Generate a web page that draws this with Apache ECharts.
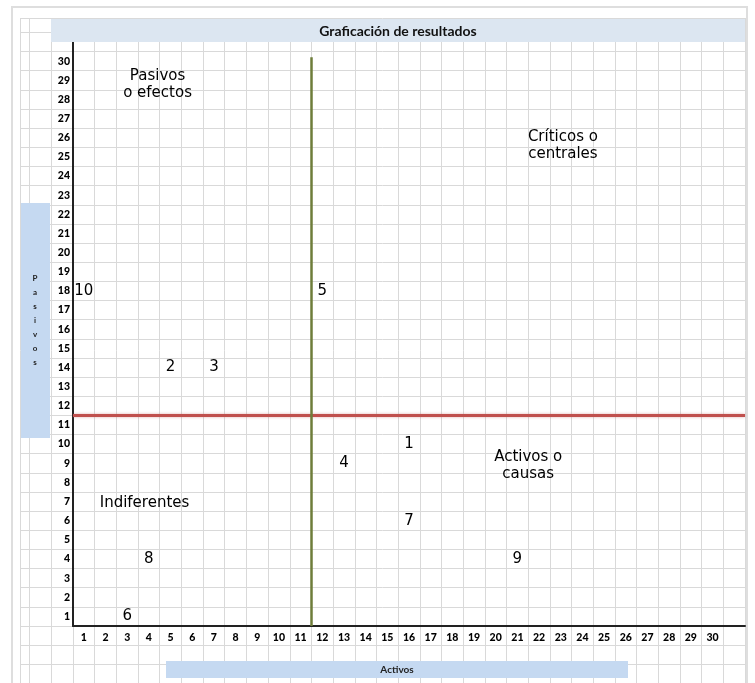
<!DOCTYPE html>
<html>
<head>
<meta charset="utf-8">
<script src="https://cdn.jsdelivr.net/npm/echarts@6/dist/echarts.min.js"></script>
<style>
  html, body { margin: 0; padding: 0; background: #fff; }
  #chart { width: 755px; height: 683px; }
</style>
</head>
<body>
<div id="chart"></div>
<script>
// puntos de la matriz (activos = x, pasivos = y)
const pointIds = ['1', '2', '3', '4', '5', '6', '7', '8', '9', '10']
const activos = [16, 5, 7, 13, 12, 3, 16, 4, 21, 1]
const pasivos = [10, 14, 14, 9, 18, 1, 6, 4, 4, 18]

const xTicks = [1, 2, 3, 4, 5, 6, 7, 8, 9, 10, 11, 12, 13, 14, 15, 16, 17, 18, 19, 20, 21, 22, 23, 24, 25, 26, 27, 28, 29, 30]
const yTicks = [1, 2, 3, 4, 5, 6, 7, 8, 9, 10, 11, 12, 13, 14, 15, 16, 17, 18, 19, 20, 21, 22, 23, 24, 25, 26, 27, 28, 29, 30]

// lineas de corte
const corteActivos = 11.5
const cortePasivos = 11.5
const corteTop = 30.2

// rotulos de cuadrantes
const zonas = ['Pasivos\no efectos', 'Críticos o\ncentrales', 'Activos o\ncausas', 'Indiferentes']
const zonasX = [4.4, 23.1, 21.5, 3.8]
const zonasY = [28.8, 25.6, 8.9, 6.9]

// layout
const plot = { left: 73, top: 42, right: 745, bottom: 626 }
const sheet = { left: 20, top: 18, right: 745, bottom: 683 }
const xMin = 0.5, xMax = 31.5, yMin = 0.5, yMax = 31

const ux = (plot.right - plot.left) / (xMax - xMin)
const uy = (plot.bottom - plot.top) / (yMax - yMin)
const sxMin = xMin - (plot.left - sheet.left) / ux
const syMax = yMax + (plot.top - sheet.top) / uy
const syMin = yMin - (sheet.bottom - plot.bottom) / uy

const halfSteps = (a, b) => {
  const out = [a]
  for (let v = Math.ceil(a - 0.5) + 0.5; v < b; v++) if (v > a) out.push(v)
  out.push(b)
  return out
}

const sheetLine = { show: true, lineStyle: { color: '#d9d9d9', width: 1 } }
const tickFont = { fontFamily: 'Lato', fontWeight: 900, fontSize: 10.5, color: '#000' }
const hidden = { color: 'rgba(0,0,0,0)' }

const myChart = echarts.init(document.getElementById('chart'), null, { renderer: 'canvas' })
myChart.setOption({
  animation: false,
  backgroundColor: '#fff',
  grid: [
    { left: sheet.left, top: sheet.top, width: sheet.right - sheet.left, height: sheet.bottom - sheet.top, outerBoundsMode: 'none', containLabel: false },
    { left: plot.left, top: plot.top, width: plot.right - plot.left, height: plot.bottom - plot.top, outerBoundsMode: 'none', containLabel: false }
  ],
  xAxis: [
    {
      gridIndex: 0, type: 'value', min: sxMin, max: xMax,
      axisLine: { show: false },
      axisTick: { show: false, customValues: halfSteps(sxMin, xMax) },
      axisLabel: { show: false },
      splitLine: sheetLine
    },
    {
      gridIndex: 1, type: 'value', min: xMin, max: xMax,
      axisLine: { show: true, onZero: false, lineStyle: { color: '#222', width: 2 } },
      axisTick: { show: false, customValues: xTicks },
      axisLabel: Object.assign({ customValues: xTicks, margin: 6 }, tickFont),
      splitLine: { show: false }
    }
  ],
  yAxis: [
    {
      gridIndex: 0, type: 'value', min: syMin, max: syMax,
      axisLine: { show: false },
      axisTick: { show: false, customValues: halfSteps(syMin, syMax) },
      axisLabel: { show: false },
      splitLine: sheetLine
    },
    {
      gridIndex: 1, type: 'value', min: yMin, max: yMax,
      axisLine: { show: true, onZero: false, lineStyle: { color: '#222', width: 2 } },
      axisTick: { show: false, customValues: yTicks },
      axisLabel: Object.assign({ customValues: yTicks, margin: 3 }, tickFont),
      splitLine: { show: false }
    }
  ],
  graphic: [
    { type: 'rect', z: 1, shape: { x: 12, y: 7, width: 735, height: 690 }, style: { fill: 'none', stroke: '#dedede', lineWidth: 2 } },
    { type: 'rect', z: 10, shape: { x: 51, y: 19, width: 694, height: 23 }, style: { fill: '#dce6f1' } },
    { type: 'text', z: 11, x: 398, y: 31, style: { text: 'Graficación de resultados', fontFamily: 'Lato', fontWeight: 'bold', fontSize: 14, fill: '#111', align: 'center', verticalAlign: 'middle' } },
    { type: 'rect', z: 10, shape: { x: 21, y: 203, width: 29, height: 235 }, style: { fill: '#c5d9f1' } },
    { type: 'text', z: 11, x: 35, y: 320, style: { text: 'P\na\ns\ni\nv\no\ns', fontFamily: 'Lato', fontWeight: 'bold', fontSize: 8, lineHeight: 14, fill: '#222', align: 'center', verticalAlign: 'middle' } },
    { type: 'rect', z: 10, shape: { x: 166, y: 661, width: 462, height: 17 }, style: { fill: '#c5d9f1' } },
    { type: 'text', z: 11, x: 397, y: 670, style: { text: 'Activos', fontFamily: 'Lato', fontWeight: 'bold', fontSize: 10, fill: '#222', align: 'center', verticalAlign: 'middle' } }
  ],
  series: [
    {
      name: 'puntos',
      type: 'scatter',
      xAxisIndex: 1,
      yAxisIndex: 1,
      symbolSize: 1,
      itemStyle: hidden,
      data: activos.map((x, i) => [x, pasivos[i], pointIds[i]]),
      label: {
        show: true,
        position: 'inside',
        formatter: p => p.data[2],
        fontFamily: 'DejaVu Sans',
        fontSize: 15,
        color: '#000',
        opacity: 1
      },
      markLine: {
        silent: true,
        symbol: 'none',
        label: { show: false },
        data: [
          {
            yAxis: cortePasivos,
            lineStyle: { color: '#c0504d', width: 3, type: 'solid', shadowColor: 'rgba(192,80,77,0.45)', shadowBlur: 3 }
          },
          [
            { coord: [corteActivos, yMin], lineStyle: { color: '#6e7d3a', width: 2.5, type: 'solid' } },
            { coord: [corteActivos, corteTop] }
          ]
        ]
      }
    },
    {
      name: 'zonas',
      type: 'scatter',
      xAxisIndex: 1,
      yAxisIndex: 1,
      symbolSize: 1,
      itemStyle: hidden,
      data: zonasX.map((x, i) => [x, zonasY[i], zonas[i]]),
      label: {
        show: true,
        position: 'inside',
        formatter: p => p.data[2],
        fontFamily: 'DejaVu Sans',
        fontSize: 15,
        lineHeight: 17,
        color: '#000',
        opacity: 1
      }
    }
  ]
})
</script>
</body>
</html>
